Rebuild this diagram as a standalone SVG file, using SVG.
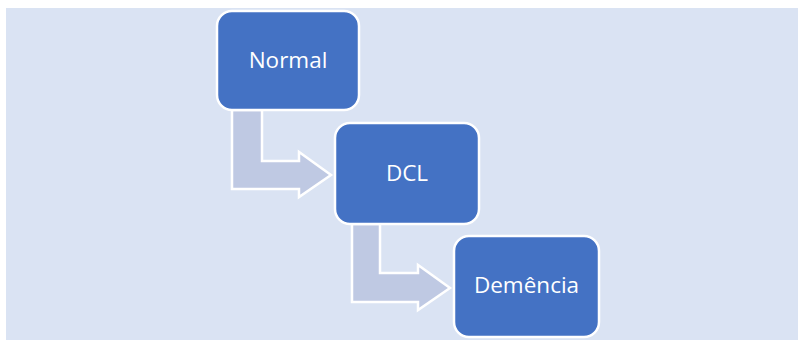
<svg xmlns="http://www.w3.org/2000/svg" width="798" height="340" viewBox="0 0 798 340">
<style>
.box{fill:#4472C4;stroke:#FFFFFF;stroke-width:2.5}
.arr{fill:#BFC9E3;stroke:#FFFFFF;stroke-width:2.5;stroke-linejoin:miter}
.lbl{font-family:"Open Sans","Liberation Sans",sans-serif;font-size:22.5px;fill:#FFFFFF;text-anchor:middle}
</style>
<rect x="0" y="0" width="798" height="340" fill="#FFFFFF"/>
<rect x="6" y="8" width="792" height="332" fill="#DAE3F3"/>
<g id="connectors">
<path class="arr" d="M232,110 L232,189 L299,189 L299,197 L331,175 L299,152 L299,161 L262,161 L262,110 Z"/>
<path class="arr" d="M352,224 L352,302 L418,302 L418,310 L450,288 L418,265 L418,273 L380,273 L380,224 Z"/>
</g>
<g id="normal">
<rect class="box" x="217" y="11" width="142" height="99" rx="15"/>
<text class="lbl" x="288" y="68">Normal</text>
</g>
<g id="dcl">
<rect class="box" x="335" y="123" width="144" height="101" rx="15"/>
<text class="lbl" x="407" y="181">DCL</text>
</g>
<g id="demencia">
<rect class="box" x="454" y="236" width="145" height="101" rx="15"/>
<text class="lbl" x="526.5" y="293">Demência</text>
</g>
</svg>
